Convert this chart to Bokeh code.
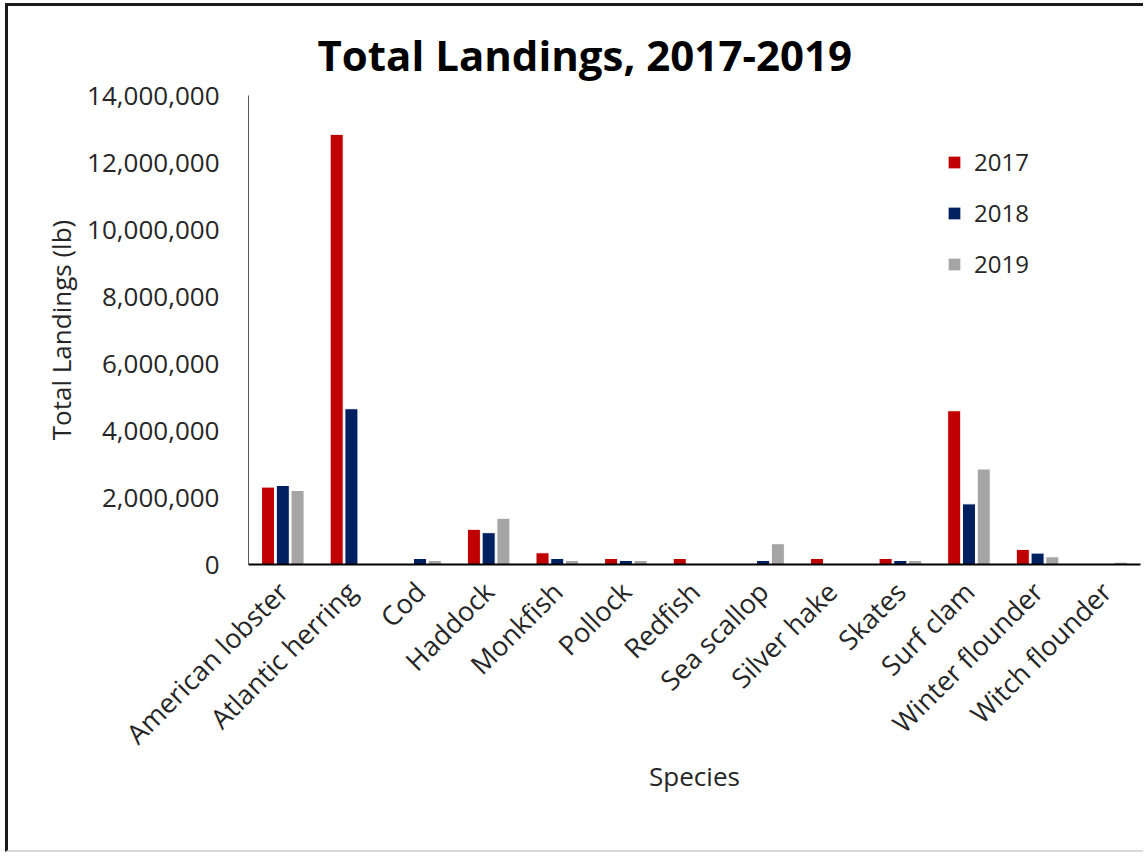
import math
from bokeh.plotting import figure
from bokeh.models import ColumnDataSource, FactorRange, NumeralTickFormatter, Legend, LegendItem, Range1d
from bokeh.transform import dodge
from bokeh.embed import file_html
from bokeh.resources import INLINE

nan = float("nan")

title_text = "Total Landings, 2017-2019"
species = ["American lobster", "Atlantic herring", "Cod", "Haddock", "Monkfish",
           "Pollock", "Redfish", "Sea scallop", "Silver hake", "Skates",
           "Surf clam", "Winter flounder", "Witch flounder"]
years = ["2017", "2018", "2019"]
landings_2017 = [2310000, 12840000, nan, 1050000, 350000, 180000, 180000, nan, 180000, 180000, 4590000, 450000, nan]
landings_2018 = [2360000, 4650000, 180000, 950000, 180000, 120000, nan, 120000, nan, 120000, 1810000, 340000, nan]
landings_2019 = [2210000, nan, 120000, 1380000, 120000, 120000, nan, 620000, nan, 120000, 2850000, 230000, 70000]
y_ticks = [0, 2000000, 4000000, 6000000, 8000000, 10000000, 12000000, 14000000]

colors = ["#C00000", "#002060", "#A5A5A5"]
FONT = "Open Sans"
TXT = "#262626"

src = ColumnDataSource(dict(species=species, y2017=landings_2017,
                            y2018=landings_2018, y2019=landings_2019))

p = figure(width=1138, height=849, x_range=FactorRange(*species, range_padding=0),
           y_range=Range1d(0, 14000000), output_backend="svg", toolbar_location=None,
           min_border_left=240, min_border_right=6, min_border_top=89, min_border_bottom=291)
p.margin = (3, 0, 0, 5)
p.styles = {"border-left": "3px solid #1a1a1a", "border-top": "3px solid #1a1a1a",
            "border-bottom": "2px solid #d9d9d9"}

p.title.text = title_text
p.title.text_font = FONT
p.title.text_font_size = "42px"
p.title.text_font_style = "bold"
p.title.text_color = "black"
p.title.align = "left"
p.title.offset = 69
p.title.standoff = 25

renderers = []
offsets = [-0.215, 0.0, 0.215]
for yr, off, col in zip(years, offsets, colors):
    r = p.vbar(x=dodge("species", off, range=p.x_range), top="y" + yr, width=0.19,
               source=src, fill_color=col, line_color="white", line_width=1)
    renderers.append(r)

legend = Legend(items=[LegendItem(label=yr, renderers=[r]) for yr, r in zip(years, renderers)],
                location=(698, 284), orientation="vertical")
legend.label_text_font = FONT
legend.label_text_font_size = "24px"
legend.label_text_color = TXT
legend.glyph_width = 16
legend.glyph_height = 16
legend.label_height = 20
legend.spacing = 18
legend.padding = 0
legend.margin = 0
legend.label_standoff = 12
legend.border_line_color = None
legend.background_fill_alpha = 0
p.add_layout(legend)

p.xgrid.grid_line_color = None
p.ygrid.grid_line_color = None
p.outline_line_color = None

p.yaxis.ticker = y_ticks
p.yaxis.formatter = NumeralTickFormatter(format="0,0")
p.yaxis.major_tick_line_color = None
p.yaxis.minor_tick_line_color = None
p.yaxis.major_tick_out = 0
p.yaxis.major_label_standoff = 29
p.yaxis.axis_line_color = "#595959"
p.yaxis.axis_line_width = 1
p.yaxis.axis_label = "Total Landings (lb)"
p.yaxis.axis_label_standoff = 5

p.xaxis.major_tick_line_color = None
p.xaxis.minor_tick_line_color = None
p.xaxis.major_tick_out = 0
p.xaxis.axis_line_color = "black"
p.xaxis.axis_line_width = 2
p.xaxis.major_label_orientation = math.pi / 4
p.xaxis.major_label_standoff = 22
p.xaxis.axis_label = "Species"
p.xaxis.axis_label_standoff = -10

for ax in (p.xaxis[0], p.yaxis[0]):
    ax.major_label_text_font = FONT
    ax.major_label_text_color = TXT
    ax.axis_label_text_font = FONT
    ax.axis_label_text_font_style = "normal"
    ax.axis_label_text_color = TXT
p.yaxis.major_label_text_font_size = "26px"
p.xaxis.major_label_text_font_size = "27px"
p.yaxis.axis_label_text_font_size = "26px"
p.xaxis.axis_label_text_font_size = "26px"

open("out.html", "w").write(file_html(p, INLINE))
